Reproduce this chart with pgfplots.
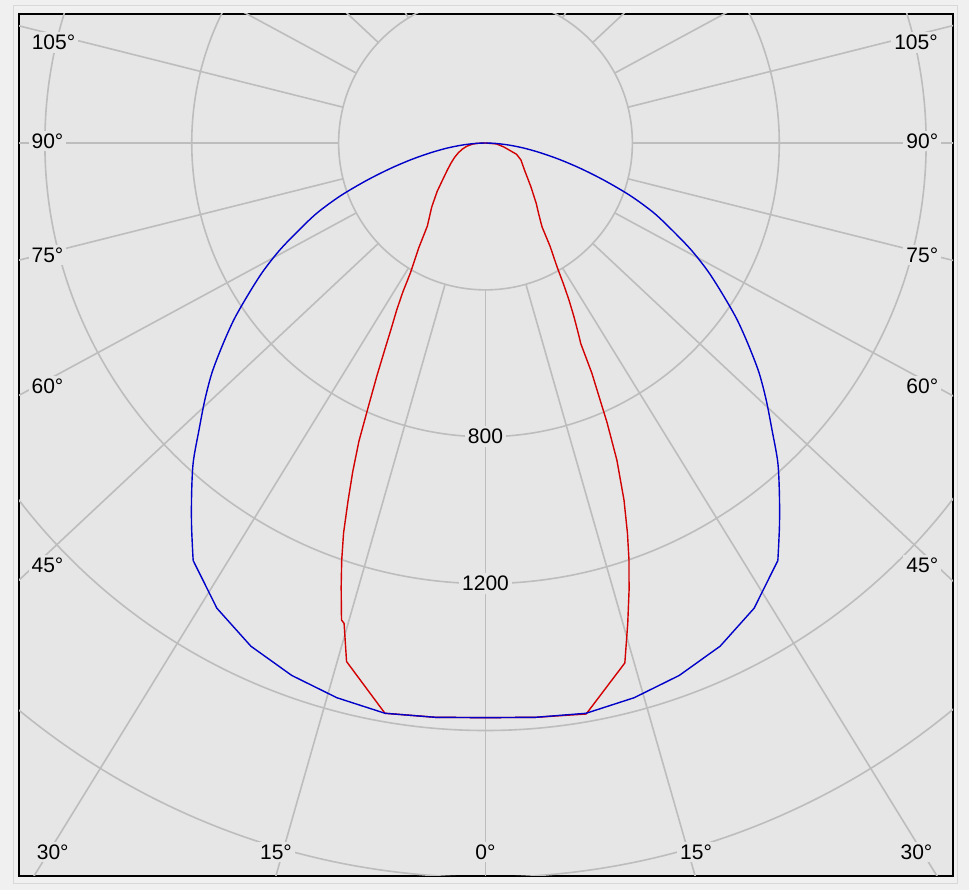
\documentclass[border=0pt]{standalone}
\usepackage{pgfplots}
\pgfplotsset{compat=1.18}
\usepackage{pgfplotstable}
\usepackage{fontspec}
\setmainfont{Liberation Sans}
\definecolor{bgout}{HTML}{F0F0F0}
\definecolor{bgin}{HTML}{E6E6E6}
\definecolor{gridc}{HTML}{BDBDBD}
\definecolor{bordc}{HTML}{D8D8D8}
\definecolor{cblue}{HTML}{0000C8}
\definecolor{cred}{HTML}{D20000}
\tikzset{lab/.style={fill=bgin, inner sep=3bp, text=black, font=\fontsize{21bp}{25bp}\selectfont}}

% luminous intensity (cd) vs angle from nadir (deg); negative = left half
% blue plane: outer (smooth) parts and inner part
\pgfplotstableread{
a I
-90 0
-87.5 27
-85 63
-82.5 104
-80 150
-77.5 205
-75 268
-72.5 340
-70 420
-67.5 495
-65 560
-62.5 632
-60 700
-57.5 765
-55 835
-52.5 902
-50 972
-47.5 1037
-45 1103
-42.5 1178
-40 1245
-37.5 1315
-35 1388
}\blueleft

\pgfplotstableread{
a I
-35 1388
-30 1463
-25 1512
-20 1543
-15 1564
-10 1577
-5 1570
0 1565
5 1570
10 1577
15 1564
20 1543
25 1512
30 1463
35 1388
}\bluemid

\pgfplotstableread{
a I
35 1388
37.5 1315
40 1245
42.5 1178
45 1103
47.5 1037
50 972
52.5 902
55 835
57.5 765
60 700
62.5 632
65 560
67.5 495
70 420
72.5 340
75 268
77.5 205
80 150
82.5 104
85 63
87.5 27
90 0
}\blueright

\pgfplotstableread{
a I
-90 0
-87.5 22
-85 36
-80 52
-75 66
-70 79
-65 93
-60 108
-55 126
-50 150
-45 186
-40 228
-35 276
-32.5 338
-30 410
-29 465
-28 515
-27 563
-26 625
-25 700
-24 782
-23 882
-22 965
-21 1045
-20 1130
-19 1203
-18 1272
-16.8 1357
-16.4 1364
-15 1462
-10 1577
-5 1570
0 1565
5 1570
10 1579
15 1466
16.5 1364
17.8 1279
19 1200
20 1130
21.2 1043
22.5 935
23.5 830
24.8 690
25.4 605
26 576
27 530
28 484
29 436
30 390
32 332
34 275
37 240
40 215
46 172
55 130
64.4 107
70 90
77.8 51
85 30
90 0
}\redtab

\begin{document}
\begin{tikzpicture}
\fill[bgout] (0,0) rectangle (969bp,890bp);
\draw[bordc, line width=1bp] (13bp,6bp) rectangle (957bp,884bp);
\begin{axis}[
  at={(19bp,14bp)}, anchor=south west,
  scale only axis, width=934bp, height=862bp,
  xmin=-1270.4, xmax=1273.1, ymin=-1996.2, ymax=351.3,
  xtick=\empty, ytick=\empty,
  axis line style={black, line width=1.3bp},
  axis background/.style={fill=bgin},
  clip=true,
]
% grid circles (400 cd steps)
\pgfplotsinvokeforeach{146.88,293.76,440.64,587.52,734.4,881.28}{
  \draw[gridc, line width=1.6bp] (axis cs:0,0) circle[radius=#1bp];
}
% radial lines
\pgfplotsinvokeforeach{0,15.96,31.63,46.86,61.59,75.90,90,104.10,118.41,133.14,148.37,164.04,180,-15.96,-31.63,-46.86,-61.59,-75.90,-90,-104.10,-118.41,-133.14,-148.37,-164.04}{
  \draw[gridc, line width=1.6bp] (axis cs:{400*sin(#1)},{-400*cos(#1)}) -- (axis cs:{3000*sin(#1)},{-3000*cos(#1)});
}
% labels
\node[lab] at (axis cs:-1176.5,273.7) {105°};
\node[lab] at (axis cs:1172.4,273.7) {105°};
\node[lab] at (axis cs:-1192.8,5.4) {90°};
\node[lab] at (axis cs:1189.5,5.4) {90°};
\node[lab] at (axis cs:-1192.8,-305.0) {75°};
\node[lab] at (axis cs:1189.5,-305.0) {75°};
\node[lab] at (axis cs:-1192.8,-661.8) {60°};
\node[lab] at (axis cs:1189.5,-661.8) {60°};
\node[lab] at (axis cs:-1192.8,-1149.2) {45°};
\node[lab] at (axis cs:1189.5,-1149.2) {45°};
\node[lab] at (axis cs:-1178.6,-1930.8) {30°};
\node[lab] at (axis cs:1173.7,-1930.8) {30°};
\node[lab] at (axis cs:-570.5,-1930.8) {15°};
\node[lab] at (axis cs:573.3,-1930.8) {15°};
\node[lab] at (axis cs:0,-1930.8) {0°};
\node[lab] at (axis cs:0,-800) {800};
\node[lab] at (axis cs:0,-1200) {1200};
% curves
\addplot[cred, line width=1.4bp, no markers, line join=round] table[x expr={\thisrow{I}*sin(\thisrow{a})}, y expr={-\thisrow{I}*cos(\thisrow{a})}] {\redtab};
\addplot[cblue, line width=1.4bp, no markers, smooth, line join=round] table[x expr={\thisrow{I}*sin(\thisrow{a})}, y expr={-\thisrow{I}*cos(\thisrow{a})}] {\blueleft};
\addplot[cblue, line width=1.4bp, no markers, line join=round] table[x expr={\thisrow{I}*sin(\thisrow{a})}, y expr={-\thisrow{I}*cos(\thisrow{a})}] {\bluemid};
\addplot[cblue, line width=1.4bp, no markers, smooth, line join=round] table[x expr={\thisrow{I}*sin(\thisrow{a})}, y expr={-\thisrow{I}*cos(\thisrow{a})}] {\blueright};
\end{axis}
\end{tikzpicture}
\end{document}
